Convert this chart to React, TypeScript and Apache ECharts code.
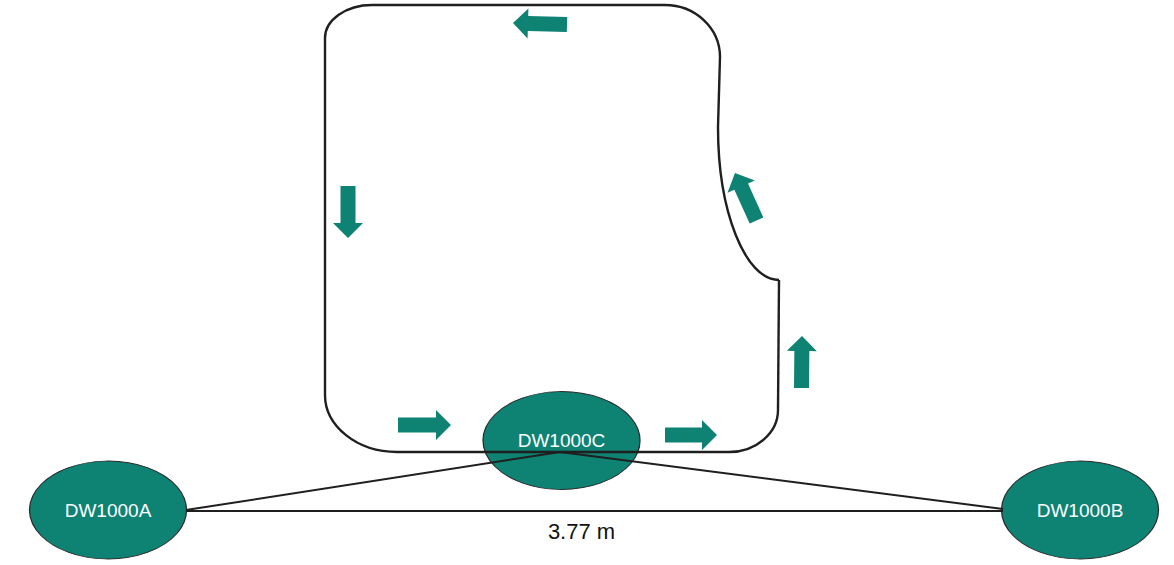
import { useEffect, useRef } from "react";
import * as echarts from "echarts";

// track outline, image pixel units (x right, y down)
const trackStraight = [
  [372, 5, 665, 5],
  [720, 57, 718, 127],
  [779, 280, 778, 410],
  [729, 452, 397, 452],
  [325, 395, 325, 38],
];

// cubic pieces: start, control 1, control 2, end
const trackCurves = [
  [325, 38, 325, 20, 346, 5, 372, 5],
  [665, 5, 695, 5, 720, 28, 720, 57],
  [718, 127, 718, 211, 745, 280, 779, 280],
  [778, 410, 778, 433, 756, 452, 729, 452],
  [397, 452, 357, 452, 325, 426, 325, 395],
];

// direction arrows: tail x, tail y, tip x, tip y
const flowArrows = [
  [567, 24.5, 513, 23],
  [348, 186, 348, 238],
  [398, 425, 451, 425],
  [665, 435, 717, 435],
  [801.5, 388, 802, 336],
  [756.5, 220.5, 735, 173],
];

const anchorNames = ["DW1000A", "DW1000B", "DW1000C"];
const anchorX = [108, 1080, 561.5];
const anchorY = [510, 510, 440.5];

const rangePath = [
  [186, 510],
  [560, 452],
  [1003, 509],
];
const baseLine = [
  [186, 511],
  [1003, 511],
];
const distanceText = "3.77 m";
const distancePos = [581.5, 531];

const TEAL = "#0e8273";
const INK = "#1f1f1f";
const FONT = "Liberation Sans, Arial, sans-serif";

export default function App() {
  const chartRef = useRef<HTMLDivElement>(null);

  useEffect(() => {
    if (!chartRef.current) return;
    const chart = echarts.init(chartRef.current, null, { renderer: "svg" });

    const option: echarts.EChartsOption = {
      animation: false,
      backgroundColor: "#ffffff",
      grid: { left: 0, right: 0, top: 0, bottom: 0 },
      xAxis: { type: "value", min: 0, max: 1174, show: false },
      yAxis: { type: "value", min: 0, max: 565, inverse: true, show: false },
      series: [
        {
          type: "scatter",
          z: 2,
          symbol: "circle",
          symbolSize: [157, 98],
          itemStyle: { color: TEAL, borderColor: "#2a2a2a", borderWidth: 1, opacity: 1 },
          label: {
            show: true,
            position: "inside",
            color: "#ffffff",
            fontSize: 19,
            fontFamily: FONT,
            formatter: (p: any) => anchorNames[p.dataIndex],
          },
          data: anchorX.map((x, i) => [x, anchorY[i]]),
        },
        {
          type: "line",
          z: 3,
          symbol: "none",
          lineStyle: { color: INK, width: 2 },
          data: rangePath,
        },
        {
          type: "line",
          z: 3,
          symbol: "none",
          lineStyle: { color: INK, width: 2 },
          data: baseLine,
        },
        {
          type: "scatter",
          z: 4,
          symbolSize: 0,
          itemStyle: { opacity: 1 },
          label: {
            show: true,
            position: "inside",
            color: "#111111",
            fontSize: 22,
            fontFamily: FONT,
            formatter: () => distanceText,
          },
          data: [distancePos],
        },
        {
          type: "custom",
          z: 3,
          clip: false,
          data: trackStraight,
          renderItem: (_params: any, api: any) => {
            const a = api.coord([api.value(0), api.value(1)]);
            const b = api.coord([api.value(2), api.value(3)]);
            return {
              type: "line",
              shape: { x1: a[0], y1: a[1], x2: b[0], y2: b[1] },
              style: { stroke: INK, lineWidth: 2.4, fill: "none" },
            };
          },
        },
        {
          type: "custom",
          z: 3,
          clip: false,
          data: trackCurves,
          renderItem: (_params: any, api: any) => {
            const p = (i: number) => api.coord([api.value(i), api.value(i + 1)]);
            const s = p(0);
            const c1 = p(2);
            const c2 = p(4);
            const e = p(6);
            return {
              type: "bezierCurve",
              shape: {
                x1: s[0], y1: s[1],
                cpx1: c1[0], cpy1: c1[1],
                cpx2: c2[0], cpy2: c2[1],
                x2: e[0], y2: e[1],
              },
              style: { stroke: INK, lineWidth: 2.4, fill: "none" },
            };
          },
        },
        {
          type: "custom",
          z: 3,
          clip: false,
          data: flowArrows,
          renderItem: (_params: any, api: any) => {
            const t = api.coord([api.value(0), api.value(1)]);
            const h = api.coord([api.value(2), api.value(3)]);
            const dx = h[0] - t[0];
            const dy = h[1] - t[1];
            const len = Math.hypot(dx, dy) || 1;
            const ux = dx / len;
            const uy = dy / len;
            const nx = -uy;
            const ny = ux;
            const headLen = 15;
            const shaft = 7.5;
            const head = 15;
            const bx = h[0] - ux * headLen;
            const by = h[1] - uy * headLen;
            const pts = [
              [t[0] + nx * shaft, t[1] + ny * shaft],
              [bx + nx * shaft, by + ny * shaft],
              [bx + nx * head, by + ny * head],
              [h[0], h[1]],
              [bx - nx * head, by - ny * head],
              [bx - nx * shaft, by - ny * shaft],
              [t[0] - nx * shaft, t[1] - ny * shaft],
            ];
            return {
              type: "polygon",
              shape: { points: pts },
              style: { fill: TEAL, stroke: "none" },
            };
          },
        },
      ],
    };

    chart.setOption(option);
    return () => chart.dispose();
  }, []);

  return (
    <div
      ref={chartRef}
      style={{ position: "fixed", left: 0, top: 0, width: 1174, height: 565 }}
    />
  );
}
